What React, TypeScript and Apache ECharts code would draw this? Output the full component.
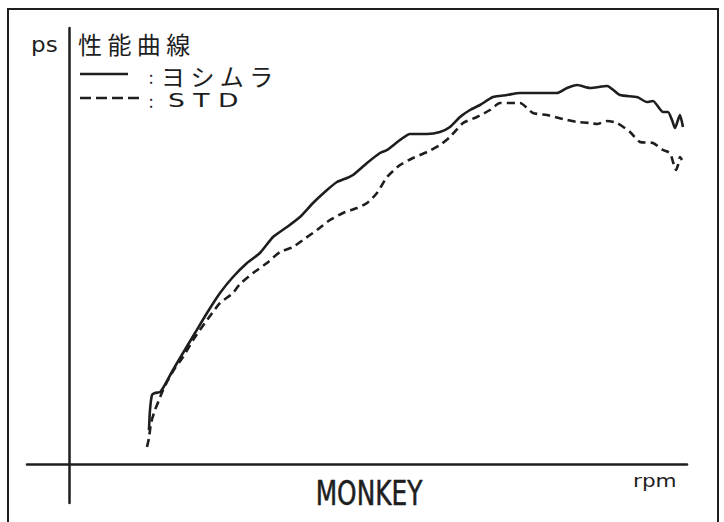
import React, { useEffect, useRef } from "react";
import * as echarts from "echarts";

// ヨシムラ (solid) — rpm / ps
const yoshimuraRpm = [1333, 1350, 1383, 1433, 1517, 1567, 1733, 1900, 2100, 2300, 2517, 2733, 2967, 3183, 3400, 3633, 3850, 4067, 4300, 4467, 4633, 4733, 4967, 5183, 5300, 5517, 5683, 5967, 6183, 6350, 6517, 6683, 6850, 7067, 7300, 7517, 7850, 8133, 8300, 8467, 8683, 8967, 9183, 9467, 9633, 9733, 9900, 9983, 10050, 10100, 10150, 10183, 10233];
const yoshimuraPs = [0.68, 1.08, 1.38, 1.42, 1.44, 1.52, 1.88, 2.22, 2.62, 3.02, 3.42, 3.74, 4.02, 4.22, 4.54, 4.74, 4.94, 5.22, 5.48, 5.64, 5.72, 5.78, 6.02, 6.22, 6.28, 6.48, 6.6, 6.6, 6.64, 6.74, 6.94, 7.08, 7.18, 7.34, 7.38, 7.42, 7.42, 7.42, 7.52, 7.58, 7.52, 7.56, 7.38, 7.34, 7.24, 7.26, 7.04, 7.04, 6.88, 6.72, 6.88, 6.98, 6.74];

// STD (dashed)
const stdRpm = [1300, 1333, 1367, 1433, 1500, 1567, 1650, 1767, 1900, 2067, 2217, 2350, 2517, 2733, 2850, 3067, 3300, 3517, 3733, 3900, 4133, 4350, 4567, 4800, 4967, 5133, 5300, 5517, 5733, 5967, 6183, 6350, 6567, 6800, 7017, 7183, 7517, 7733, 7967, 8233, 8467, 8683, 8800, 8967, 9133, 9350, 9517, 9733, 9900, 10017, 10067, 10117, 10150, 10183, 10217];
const stdPs = [0.34, 0.52, 0.82, 1.08, 1.28, 1.48, 1.68, 1.92, 2.14, 2.48, 2.74, 2.96, 3.22, 3.42, 3.6, 3.82, 4.02, 4.24, 4.34, 4.48, 4.68, 4.88, 5.02, 5.12, 5.22, 5.42, 5.74, 5.98, 6.12, 6.24, 6.38, 6.54, 6.82, 6.94, 7.08, 7.22, 7.22, 7.02, 6.98, 6.9, 6.84, 6.82, 6.8, 6.86, 6.82, 6.64, 6.44, 6.42, 6.28, 6.22, 6.04, 5.88, 5.98, 6.14, 6.08];

const yUnit = "ps";
const xUnit = "rpm";
const chartTitle = "性能曲線";
const seriesNames = ["ヨシムラ", "STD"];
const modelName = "MONKEY";

const INK = "#1e1e1e";
const CJK = '"Noto Sans CJK JP", "Noto Sans", sans-serif';

export default function App() {
  const ref = useRef<HTMLDivElement>(null);
  useEffect(() => {
    document.body.style.margin = "0";
    const chart = echarts.init(ref.current!, null, { renderer: "svg" });
    const pair = (xs: number[], ys: number[]) => xs.map((x, i) => [x, ys[i]]);
    const spaced = (s: string) => s.split("").join(" ");
    chart.setOption({
      animation: false,
      backgroundColor: "#ffffff",
      grid: { left: 27, right: 37, top: 28, bottom: 19 },
      xAxis: {
        type: "value",
        min: -700,
        max: 10300,
        axisLine: { show: true, onZero: true, lineStyle: { color: INK, width: 2.5 } },
        axisTick: { show: false },
        axisLabel: { show: false },
        splitLine: { show: false },
      },
      yAxis: {
        type: "value",
        min: -0.78,
        max: 8.72,
        axisLine: { show: true, onZero: true, lineStyle: { color: INK, width: 2.5 } },
        axisTick: { show: false },
        axisLabel: { show: false },
        splitLine: { show: false },
      },
      series: [
        {
          name: seriesNames[0],
          type: "line",
          data: pair(yoshimuraRpm, yoshimuraPs),
          showSymbol: false,
          smooth: 0.2,
          lineStyle: { color: INK, width: 2.6 },
        },
        {
          name: seriesNames[1],
          type: "line",
          data: pair(stdRpm, stdPs),
          showSymbol: false,
          smooth: 0.2,
          lineStyle: { color: INK, width: 2.6, type: [8, 5] },
        },
      ],
      graphic: [
        {
          type: "rect",
          shape: { x: 8, y: 9, width: 710, height: 540 },
          style: { fill: "none", stroke: INK, lineWidth: 2 },
          silent: true,
        },
        {
          type: "text",
          x: 31,
          y: 45,
          scaleX: 1.1,
          style: { text: yUnit, font: '21px "DejaVu Sans"', fill: INK, verticalAlign: "middle", lineHeight: 20 },
        },
        {
          type: "text",
          x: 78,
          y: 43,
          style: { text: spaced(chartTitle), font: "24px " + CJK, fill: INK, verticalAlign: "middle", lineHeight: 22 },
        },
        {
          type: "line",
          shape: { x1: 80, y1: 74, x2: 128, y2: 74 },
          style: { stroke: INK, lineWidth: 2.5 },
        },
        {
          type: "text",
          x: 151,
          y: 76,
          style: { text: ":", font: "17px " + CJK, fill: INK, align: "center", verticalAlign: "middle", lineHeight: 14 },
        },
        {
          type: "text",
          x: 161,
          y: 75,
          style: { text: spaced(seriesNames[0]), font: "24px " + CJK, fill: INK, verticalAlign: "middle", lineHeight: 20 },
        },
        {
          type: "line",
          shape: { x1: 80, y1: 98, x2: 143, y2: 98 },
          style: { stroke: INK, lineWidth: 2.5, lineDash: [11, 5] },
        },
        {
          type: "text",
          x: 151,
          y: 100,
          style: { text: ":", font: "17px " + CJK, fill: INK, align: "center", verticalAlign: "middle", lineHeight: 14 },
        },
        {
          type: "text",
          x: 168,
          y: 100,
          scaleX: 1.33,
          style: { text: spaced(seriesNames[1]), font: '20px "DejaVu Sans"', fill: INK, verticalAlign: "middle", lineHeight: 18 },
        },
        {
          type: "text",
          x: 369,
          y: 493,
          scaleX: 0.73,
          style: {
            text: modelName,
            font: '34px "DejaVu Sans"',
            fill: INK,
            stroke: INK,
            lineWidth: 0.6,
            align: "center",
            verticalAlign: "middle",
          },
        },
        {
          type: "text",
          x: 633,
          y: 481,
          scaleX: 1.2,
          style: { text: xUnit, font: '18px "DejaVu Sans"', fill: INK, verticalAlign: "middle" },
        },
      ],
    });
    return () => chart.dispose();
  }, []);
  return <div ref={ref} style={{ width: 724, height: 522 }} />;
}
